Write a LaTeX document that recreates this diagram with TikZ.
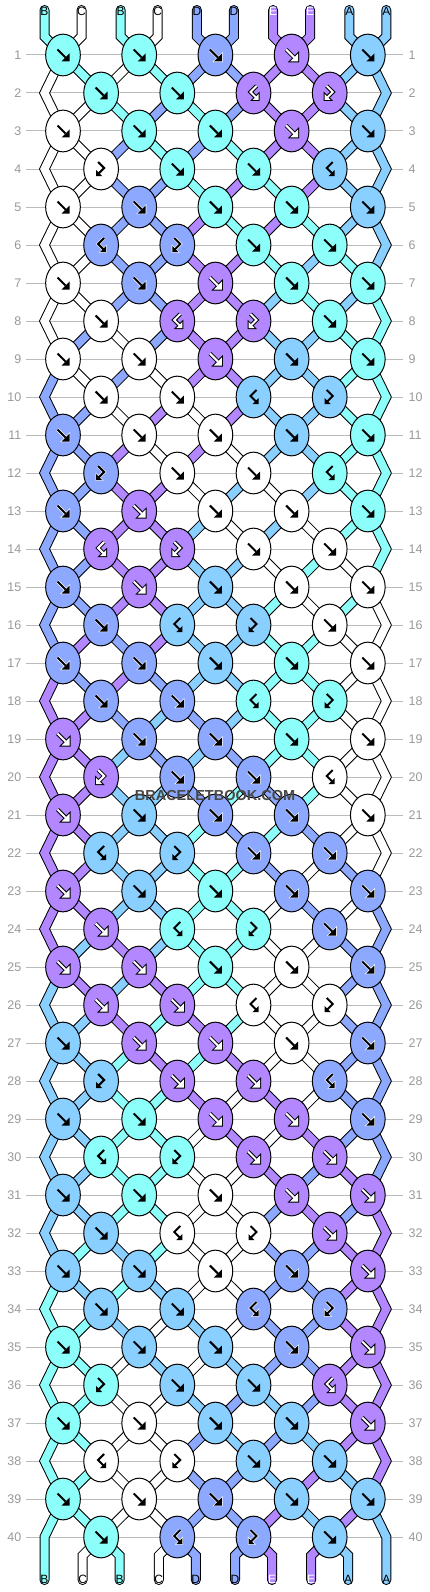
\documentclass[tikz,border=0pt]{standalone}
\usepackage{fontspec}
\setmainfont{Liberation Sans}
\usetikzlibrary{shapes.geometric}
\definecolor{colA}{HTML}{89CFFF}
\definecolor{colB}{HTML}{8CFFFB}
\definecolor{colC}{HTML}{FFFFFF}
\definecolor{colD}{HTML}{8DA9FF}
\definecolor{colE}{HTML}{B287FF}
\definecolor{rowgray}{HTML}{BBBBBB}
\definecolor{numgray}{HTML}{999999}
\tikzset{
  strandout/.style={line width=10pt, draw=black, line cap=round, line join=miter},
  strandin/.style={line width=8pt, draw=#1, line cap=round, line join=miter},
  knotnode/.style={ellipse, draw=black, line width=1pt, minimum width=34.7pt, minimum height=41.7pt, inner sep=0pt, outer sep=0pt},
  rowline/.style={draw=rowgray, line width=1pt},
  rownum/.style={text=numgray, font=\fontsize{12.5}{12.5}\selectfont, inner sep=0pt},
  tablab/.style={font=\fontsize{12}{12}\selectfont, inner sep=0pt},
}
\newcommand\stget[1]{\csname bst#1\endcsname}
\newcommand\stset[2]{\expandafter\xdef\csname bst#1\endcsname{#2}}
\newcommand\drawstrand[2]{\draw[strandout] #2; \draw[strandin=#1] #2;}
\def\deftypes#1#2#3#4#5{%
  \expandafter\def\csname ty#1-1\endcsname{#2}%
  \expandafter\def\csname ty#1-2\endcsname{#3}%
  \expandafter\def\csname ty#1-3\endcsname{#4}%
  \expandafter\def\csname ty#1-4\endcsname{#5}}
\deftypes{2}{F}{F}{R}{L}
\deftypes{4}{L}{F}{F}{R}
\deftypes{6}{R}{L}{F}{F}
\deftypes{0}{F}{R}{L}{F}
\newcommand\arrowpaths[1]{%
  \if F#1\def\shaftp{(-5.5,-5.5) -- (2.5,2.5)}\def\headp{(6.5,6.5) -- (6.5,-1.5) -- (-1.5,6.5) -- cycle}\fi
  \if B#1\def\shaftp{(5.5,-5.5) -- (-2.5,2.5)}\def\headp{(-6.5,6.5) -- (-6.5,-1.5) -- (1.5,6.5) -- cycle}\fi
  \if L#1\def\shaftp{(-3,-7) -- (3,-1) -- (-2.5,4.5)}\def\headp{(-5,7) -- (-5,1) -- (1,7) -- cycle}\fi
  \if R#1\def\shaftp{(3,-7) -- (-3,-1) -- (2.5,4.5)}\def\headp{(5,7) -- (5,1) -- (-1,7) -- cycle}\fi
}
\newcommand\drawarrow[3]{%
  \arrowpaths{#1}%
  \begin{scope}[shift={(#3.center)}]
  \if E#2
    \draw[black, line width=4pt] \shaftp; \filldraw[black, line width=2pt, line join=miter] \headp;
    \draw[white, line width=2pt] \shaftp; \fill[white] \headp;
  \else
    \if D#2
      \draw[white, line width=3.2pt] \shaftp; \filldraw[white, line width=1.2pt, line join=miter] \headp;
    \fi
    \draw[black, line width=2pt] \shaftp; \fill[black] \headp;
  \fi
  \end{scope}}
\begin{document}
\begin{tikzpicture}[x=1pt,y=-1pt]
\fill[white] (0,0) rectangle (430,1592);
\useasboundingbox (0,0) rectangle (430,1592);
% grid coordinates, row lines, numbers
\foreach \rr in {1,...,40}{
  \foreach \kk in {0,...,8}{
    \coordinate (p\rr-\kk) at ({63+38.1*\kk},{55+38*(\rr-1)});
  }
  \coordinate (el\rr) at (44.5,{55+38*(\rr-1)});
  \coordinate (er\rr) at (386.3,{55+38*(\rr-1)});
  \draw[rowline] (26,{55+38*(\rr-1)}) -- (403,{55+38*(\rr-1)});
  \node[rownum, anchor=east] (nl\rr) at (21.5,{55+38*(\rr-1)}) {\rr};
  \node[rownum, anchor=west] (nr\rr) at (408.5,{55+38*(\rr-1)}) {\rr};
}
% bottom coordinates
\coordinate (be1) at (44.5,1580);
\coordinate (be10) at (386.3,1580);
\foreach \ii/\kk/\sg in {2/1/-1,3/1/1,4/3/-1,5/3/1,6/5/-1,7/5/1,8/7/-1,9/7/1}{
  \coordinate (bb\ii) at ({63+38.1*\kk+18.5*\sg},1555.5);
  \coordinate (be\ii) at ({63+38.1*\kk+18.5*\sg},1580);
}
% initial state and top tabs
\foreach \ii/\kk/\sg/\ltr in {1/0/-1/B,2/0/1/C,3/2/-1/B,4/2/1/C,5/4/-1/D,6/4/1/D,7/6/-1/E,8/6/1/E,9/8/-1/A,10/8/1/A}{
  \stset{\ii}{\ltr}
  \coordinate (ta\ii) at ({63+38.1*\kk+18.5*\sg},10);
  \coordinate (tb\ii) at ({63+38.1*\kk+18.5*\sg},36.5);
  \drawstrand{col\ltr}{(ta\ii) -- (tb\ii) -- (p1-\kk)}
  \if E\ltr \def\tc{white}\else\def\tc{black}\fi
  \node[tablab, text=\tc] (lt\ii) at ({63+38.1*\kk+18.5*\sg},11.8) {\ltr};
}
% knots
\foreach \rr in {1,...,40}{
  \pgfmathtruncatemacro\rmod{mod(\rr,8)}
  \pgfmathtruncatemacro\isodd{mod(\rr,2)}
  \pgfmathtruncatemacro\rnext{\rr+1}
  \pgfmathtruncatemacro\rnn{\rr+2}
  \ifnum\isodd=1 \def\nk{5}\else\def\nk{4}\fi
  \foreach \jj in {1,...,\nk}{
    \ifnum\isodd=1
      \pgfmathtruncatemacro\pp{2*\jj-1}\pgfmathtruncatemacro\kk{2*\jj-2}\def\ktype{F}%
    \else
      \pgfmathtruncatemacro\pp{2*\jj}\pgfmathtruncatemacro\kk{2*\jj-1}\edef\ktype{\csname ty\rmod-\jj\endcsname}%
    \fi
    \pgfmathtruncatemacro\qq{\pp+1}
    \pgfmathtruncatemacro\kl{\kk-1}
    \pgfmathtruncatemacro\kr{\kk+1}
    \edef\Lc{\stget{\pp}}\edef\Rc{\stget{\qq}}
    \if F\ktype \edef\kc{\Lc}\edef\np{\Rc}\edef\nq{\Lc}\fi
    \if B\ktype \edef\kc{\Rc}\edef\np{\Rc}\edef\nq{\Lc}\fi
    \if L\ktype \edef\kc{\Lc}\edef\np{\Lc}\edef\nq{\Rc}\fi
    \if R\ktype \edef\kc{\Rc}\edef\np{\Lc}\edef\nq{\Rc}\fi
    \stset{\pp}{\np}\stset{\qq}{\nq}
    \edef\ccl{col\np}\edef\ccr{col\nq}
    \ifnum\rr=40
      \drawstrand{\ccl}{(p\rr-\kk) -- (bb\pp) -- (be\pp)}
      \drawstrand{\ccr}{(p\rr-\kk) -- (bb\qq) -- (be\qq)}
    \else
      \ifnum\kk=0
        \ifnum\rr=39
          \drawstrand{\ccl}{(p\rr-\kk) -- (el\rnext) -- (be1)}
        \else
          \drawstrand{\ccl}{(p\rr-\kk) -- (el\rnext) -- (p\rnn-0)}
        \fi
      \else
        \drawstrand{\ccl}{(p\rr-\kk) -- (p\rnext-\kl)}
      \fi
      \ifnum\kk=8
        \ifnum\rr=39
          \drawstrand{\ccr}{(p\rr-\kk) -- (er\rnext) -- (be10)}
        \else
          \drawstrand{\ccr}{(p\rr-\kk) -- (er\rnext) -- (p\rnn-8)}
        \fi
      \else
        \drawstrand{\ccr}{(p\rr-\kk) -- (p\rnext-\kr)}
      \fi
    \fi
    \node[knotnode, fill=col\kc] (k\rr-\kk) at (p\rr-\kk) {};
    \drawarrow{\ktype}{\kc}{k\rr-\kk}
  }
}
% bottom labels
\foreach \ii/\xx/\ltr in {1/44.5/B,2/82.6/C,3/119.6/B,4/158.8/C,5/195.8/D,6/235/D,7/272/E,8/311.2/E,9/348.2/A,10/386.3/A}{
  \if E\ltr \def\tc{white}\else\def\tc{black}\fi
  \node[tablab, text=\tc] (lb\ii) at (\xx,1579.5) {\ltr};
}
\node[font=\bfseries\fontsize{14.5}{14.5}\selectfont, text=black!72, inner sep=0pt] (wm) at (215,795) {BRACELETBOOK.COM};
\end{tikzpicture}
\end{document}
